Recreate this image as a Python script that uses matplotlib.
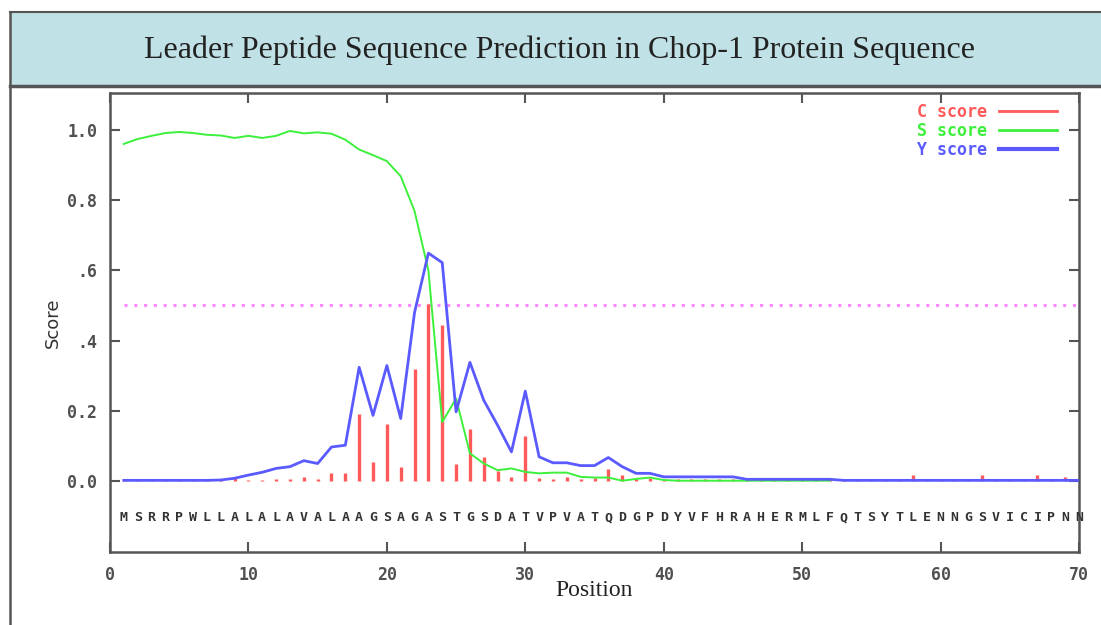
import matplotlib
matplotlib.use("Agg")
import matplotlib.pyplot as plt
from matplotlib.lines import Line2D
from matplotlib.patches import Rectangle
import numpy as np

# ---------------- data ----------------
sequence = "MSRRPWLLALALAVALAAGSAGASTGSDATVPVATQDGPDYVFHRAHERMLFQTSYTLENNGSVICIPNN"
positions = list(range(1, 71))

c_score = [0.005, 0.005, 0.004, 0.004, 0.004, 0.004, 0.004, 0.004, 0.008, 0.004,
           0.004, 0.005, 0.005, 0.012, 0.006, 0.022, 0.022, 0.190, 0.055, 0.162,
           0.039, 0.318, 0.505, 0.443, 0.048, 0.147, 0.069, 0.029, 0.012, 0.128,
           0.008, 0.006, 0.012, 0.007, 0.008, 0.033, 0.016, 0.005, 0.008, 0.005,
           0.005, 0.005, 0.005, 0.005, 0.005, 0.005, 0.005, 0.005, 0.005, 0.005,
           0.005, 0.005, 0.005, 0.005, 0.005, 0.005, 0.005, 0.017, 0.005, 0.005,
           0.005, 0.005, 0.017, 0.005, 0.005, 0.005, 0.017, 0.005, 0.012, 0.005]

s_positions = list(range(1, 53))
s_score = [0.960, 0.974, 0.983, 0.991, 0.994, 0.991, 0.986, 0.984, 0.977, 0.983,
           0.977, 0.983, 0.997, 0.990, 0.993, 0.989, 0.972, 0.944, 0.928, 0.911,
           0.868, 0.769, 0.600, 0.168, 0.235, 0.079, 0.050, 0.031, 0.036, 0.026,
           0.022, 0.024, 0.024, 0.012, 0.010, 0.010, 0.001, 0.006, 0.010, 0.003,
           0.001, 0.001, 0.001, 0.001, 0.001, 0.001, 0.001, 0.001, 0.001, 0.001,
           0.001, 0.001]

y_score = [0.002, 0.002, 0.002, 0.002, 0.002, 0.002, 0.002, 0.003, 0.008, 0.017,
           0.025, 0.036, 0.041, 0.058, 0.050, 0.097, 0.102, 0.324, 0.187, 0.329,
           0.178, 0.480, 0.649, 0.622, 0.197, 0.338, 0.230, 0.159, 0.083, 0.256,
           0.069, 0.052, 0.052, 0.044, 0.044, 0.067, 0.041, 0.022, 0.022, 0.012,
           0.012, 0.012, 0.012, 0.012, 0.012, 0.005, 0.005, 0.005, 0.005, 0.005,
           0.005, 0.005, 0.002, 0.002, 0.002, 0.002, 0.002, 0.002, 0.002, 0.002,
           0.002, 0.002, 0.002, 0.002, 0.002, 0.002, 0.002, 0.002, 0.002, 0.002]

cutoff = 0.5
x_ticks = [0, 10, 20, 30, 40, 50, 60, 70]
y_ticks = [0.0, 0.2, 0.4, 0.6, 0.8, 1.0]
y_tick_labels = ["0.0", "0.2", ".4", ".6", "0.8", "1.0"]
series_names = ["C score", "S score", "Y score"]

title = "Leader Peptide Sequence Prediction in Chop-1 Protein Sequence"

# ---------------- style ----------------
RED = "#ff5a5a"
GREEN = "#3cf03c"
BLUE = "#5a5aff"
MAGENTA = "#ff88ff"
FRAME = "#555555"
TXT = "#505050"

fig = plt.figure(figsize=(11.01, 6.25), dpi=100)
fig.patch.set_facecolor("white")

# title panel
W, H = 1101.0, 625.0
panel = Rectangle((10 / W, 1 - 86 / H), 1.0, (86 - 12) / H, transform=fig.transFigure,
                  facecolor="#c0e1e6", edgecolor="none", zorder=0)
fig.patches.append(panel)
fig.add_artist(Line2D([10 / W, 1.0], [1 - 12 / H, 1 - 12 / H], transform=fig.transFigure,
                      color=FRAME, lw=1.5))
fig.add_artist(Line2D([10 / W, 1.0], [1 - 86 / H, 1 - 86 / H], transform=fig.transFigure,
                      color=FRAME, lw=2.5))
fig.add_artist(Line2D([10 / W, 10 / W], [0, 1 - 12 / H], transform=fig.transFigure,
                      color=FRAME, lw=1.8))
fig.text(560 / W, 1 - 50 / H, title, ha="center", va="center",
         family="Liberation Serif", fontsize=23, color="#222222")

ax = fig.add_axes([110 / W, 1 - 552 / H, (1079 - 110) / W, (552 - 93) / H])

ax.vlines(positions, 0, c_score, colors=RED, linewidth=2.4, zorder=2)
ax.plot(s_positions, s_score, color=GREEN, linewidth=1.4, zorder=3)
ax.plot(positions, y_score, color=BLUE, linewidth=2.0, zorder=4)
ax.plot([positions[0], positions[-1]], [cutoff, cutoff], color=MAGENTA, linewidth=2.2,
        linestyle=(0, (1, 2.2)), zorder=1)

for i, aa in zip(positions, sequence):
    ax.text(i, -0.105, aa, ha="center", va="center", family="DejaVu Sans Mono",
            fontsize=9.5, fontweight="bold", color="#333333")

ax.set_xlim(0, 70)
ax.set_ylim(-0.202, 1.105)
ax.set_xticks(x_ticks)
ax.set_xticklabels([str(t) for t in x_ticks])
ax.set_yticks(y_ticks)
ax.set_yticklabels(y_tick_labels)

ax.tick_params(direction="in", length=7, width=1.5, color=FRAME,
               top=True, right=True, labelsize=12, labelcolor=TXT)
ax.tick_params(axis="x", pad=10)
ax.tick_params(axis="y", pad=9)
for lab in ax.get_xticklabels() + ax.get_yticklabels():
    lab.set_family("DejaVu Sans Mono")
    lab.set_fontweight("bold")
for sp in ax.spines.values():
    sp.set_color(FRAME)
    sp.set_linewidth(1.8)

ax.set_xlabel("Position", family="Liberation Serif", fontsize=17, color="#222222",
              labelpad=-3)
ax.set_ylabel("Score", family="DejaVu Sans", fontsize=13, color="#333333", labelpad=4)

handles = [Line2D([], [], color=RED, lw=2.0),
           Line2D([], [], color=GREEN, lw=2.0),
           Line2D([], [], color=BLUE, lw=3.0)]
leg = ax.legend(handles, series_names, loc="upper right",
                bbox_to_anchor=((1057 - 110) / (1079 - 110), 0.978),
                frameon=False, markerfirst=False, borderpad=0, borderaxespad=0,
                handlelength=3.5, handletextpad=0.7, labelspacing=0.05,
                prop={"family": "DejaVu Sans Mono", "size": 12, "weight": "bold"},
                labelcolor=[RED, GREEN, BLUE])

fig.savefig("out.png", dpi=100, facecolor="white")
